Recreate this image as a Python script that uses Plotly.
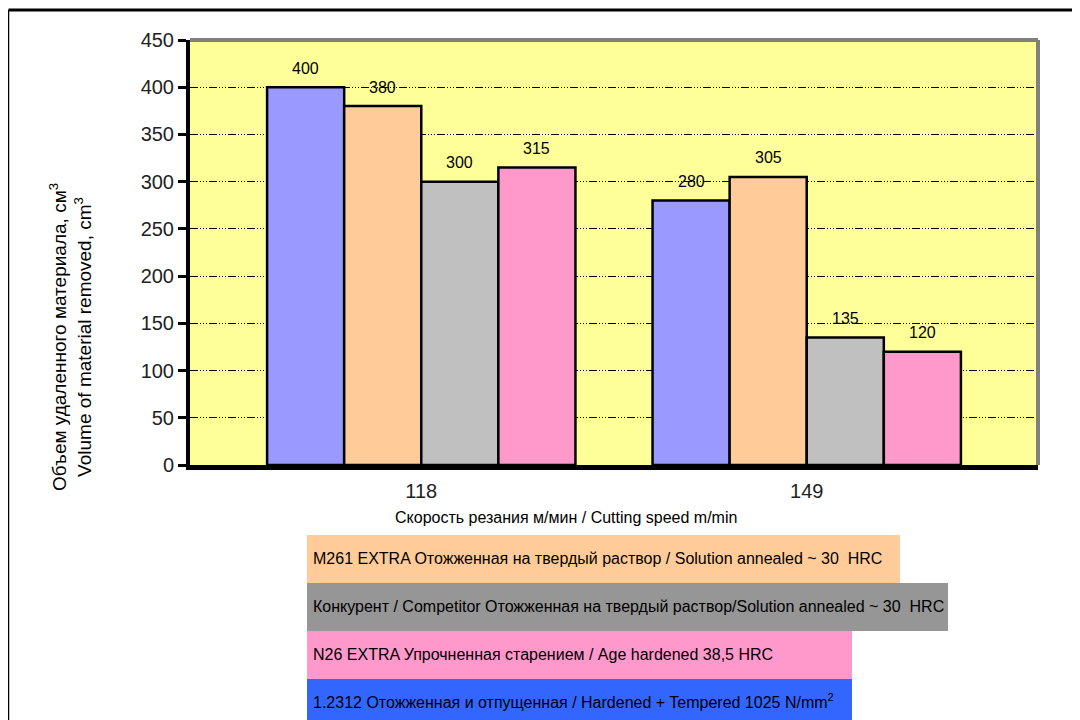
import plotly.graph_objects as go

categories = ["118", "149"]
series_names = ["1.2312", "M261 EXTRA", "Конкурент / Competitor", "N26 EXTRA"]
values_1_2312 = [400, 280]
values_m261 = [380, 305]
values_competitor = [300, 135]
values_n26 = [315, 120]
bar_colors = ["#9999FF", "#FFCC99", "#C0C0C0", "#FF99CC"]
y_ticks = [0, 50, 100, 150, 200, 250, 300, 350, 400, 450]

legend_texts = [
    "M261 EXTRA Отожженная на твердый раствор / Solution annealed ~ 30  HRC",
    "Конкурент / Competitor Отожженная на твердый раствор/Solution annealed ~ 30  HRC",
    "N26 EXTRA Упрочненная старением / Age hardened 38,5 HRC",
    "1.2312 Отожженная и отпущенная / Hardened + Tempered 1025 N/mm<sup>2</sup>",
]
legend_colors = ["#FFCC99", "#969696", "#FF99CC", "#3366FF"]

all_values = [values_1_2312, values_m261, values_competitor, values_n26]

FONT = "Liberation Sans, Arial, sans-serif"

# page body has an 8px margin; work in window pixels and convert
OFF = 8
W, H = 1080 - OFF, 720 - OFF
L, R, T, B = 190, 1038, 40, 465          # plot area in window pixels
PW, PH = R - L, B - T

def xp(px):
    return (px - L) / PW

def yp(py):
    return (B - py) / PH

fig = go.Figure()
for name, vals, col in zip(series_names, all_values, bar_colors):
    fig.add_trace(go.Bar(
        x=categories, y=vals, name=name,
        marker=dict(color=col, line=dict(color="black", width=2.5)),
        showlegend=False,
    ))

annotations = []
n = len(all_values)
for j, vals in enumerate(all_values):
    for i, v in enumerate(vals):
        annotations.append(dict(
            x=i + (j - (n - 1) / 2) * 0.2, y=v, xref="x", yref="y",
            text=str(v), showarrow=False, yshift=19,
            xanchor="center", yanchor="middle",
            font=dict(family=FONT, size=16, color="black"),
        ))

# axis titles
annotations.append(dict(
    x=xp(566), y=yp(517), xref="paper", yref="paper",
    xanchor="center", yanchor="middle",
    text="Скорость резания м/мин / Cutting speed m/min", showarrow=False,
    font=dict(family=FONT, size=16, color="black"),
))
annotations.append(dict(
    x=xp(70), y=yp(337), xref="paper", yref="paper",
    xanchor="center", yanchor="middle",
    text="Объем удаленного материала, см<sup>3</sup><br>Volume of material removed, cm<sup>3</sup>",
    showarrow=False, textangle=-90,
    font=dict(family=FONT, size=19, color="black"),
))

shapes = []
# legend boxes
box_rows = [(535, 583, 900), (583, 631, 948), (631, 679, 852), (679, 722, 852)]
text_centers = [558, 606, 654, 701]
for (y0, y1, x1), col, txt, tc in zip(box_rows, legend_colors, legend_texts, text_centers):
    shapes.append(dict(type="rect", xref="paper", yref="paper",
                       x0=xp(307), x1=xp(x1), y0=yp(y1), y1=yp(y0),
                       fillcolor=col, line=dict(width=0), layer="above"))
    annotations.append(dict(
        x=xp(311), y=yp(tc),
        xref="paper", yref="paper", xanchor="left", yanchor="middle",
        text=txt, showarrow=False,
        font=dict(family=FONT, size=16, color="black"),
    ))

# plot frame: gray top and right
shapes.append(dict(type="line", xref="paper", yref="paper", x0=0, x1=1, y0=1, y1=1,
                   line=dict(color="#808080", width=4)))
shapes.append(dict(type="line", xref="paper", yref="paper", x0=1, x1=1, y0=0, y1=1,
                   line=dict(color="#808080", width=4)))
# page frame
shapes.append(dict(type="line", xref="paper", yref="paper", x0=xp(8.5), x1=xp(1085),
                   y0=yp(10), y1=yp(10), line=dict(color="black", width=3)))
shapes.append(dict(type="line", xref="paper", yref="paper", x0=xp(8.5), x1=xp(8.5),
                   y0=yp(10), y1=yp(730), line=dict(color="black", width=1.5)))

fig.update_layout(
    width=W, height=H,
    margin=dict(l=L - OFF, r=(W + OFF) - R, t=T - OFF, b=(H + OFF) - B, pad=0),
    paper_bgcolor="white", plot_bgcolor="#FFFF99",
    barmode="group", bargap=0.2, bargroupgap=0,
    annotations=annotations, shapes=shapes,
    font=dict(family=FONT, color="black"),
)
fig.update_xaxes(
    type="category", range=[-0.6, 1.6], showgrid=False,
    showline=True, linecolor="black", linewidth=5,
    ticks="", tickfont=dict(family=FONT, size=20, color="#222"),
    ticklabelstandoff=4,
)
fig.update_yaxes(
    range=[0, 450], tickvals=y_ticks, showgrid=True,
    gridcolor="black", gridwidth=1, griddash="8px,2px,1px,2px,1px,2px,1px,2px",
    showline=True, linecolor="black", linewidth=4,
    ticks="outside", ticklen=8, tickwidth=3, tickcolor="black",
    tickfont=dict(family=FONT, size=20, color="#222"),
    zeroline=False,
)

fig.write_html("out.html")
